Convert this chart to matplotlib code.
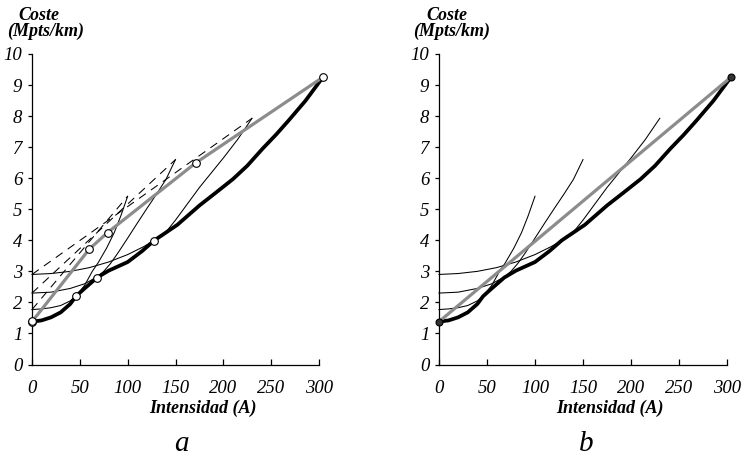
import matplotlib
matplotlib.use("Agg")
import matplotlib.pyplot as plt

# ---- data ----
env_I = [0, 10, 20, 30, 40, 46, 55, 68, 80, 100, 115, 128, 152, 175, 192, 210, 225, 241, 255, 268, 286, 304]
env_C = [1.38, 1.42, 1.52, 1.68, 1.95, 2.2, 2.45, 2.8, 3.02, 3.3, 3.65, 4.0, 4.5, 5.12, 5.53, 5.97, 6.4, 6.95, 7.4, 7.85, 8.5, 9.25]

c1_I = [0, 10, 20, 30, 40, 46, 55, 63, 69, 78, 86, 93, 100]
c1_C = [1.77, 1.79, 1.83, 1.9, 2.05, 2.2, 2.55, 3.0, 3.27, 3.75, 4.25, 4.8, 5.42]

c2_I = [0, 20, 40, 55, 68, 75, 82, 90, 100, 110, 120, 130, 140, 150]
c2_C = [2.3, 2.33, 2.45, 2.6, 2.82, 3.0, 3.25, 3.6, 4.07, 4.55, 5.02, 5.48, 5.96, 6.6]

c3_I = [0, 20, 40, 60, 80, 100, 117, 128, 137, 150, 175, 200, 215, 230]
c3_C = [2.9, 2.93, 3.0, 3.12, 3.3, 3.54, 3.8, 4.0, 4.15, 4.65, 5.7, 6.65, 7.25, 7.93]

# dashed secants (panel a)
sec_I = [[0, 100], [0, 150], [0, 230]]
sec_C = [[1.77, 5.42], [2.3, 6.6], [2.9, 7.93]]

# grey approximation, panel a (polyline) and panel b (straight line)
ga_I = [0, 60, 79, 171, 304]
ga_C = [1.38, 3.72, 4.25, 6.49, 9.25]
gb_I = [0, 304]
gb_C = [1.38, 9.25]

# tangent points on envelope (panel a)
tp_I = [0, 46, 68, 128]
tp_C = [1.4, 2.2, 2.8, 3.97]

xticks = [0, 50, 100, 150, 200, 250, 300]
yticks = list(range(0, 11))

W, H = 749, 461
fig = plt.figure(figsize=(W / 100, H / 100), dpi=100)

SERIF = "Liberation Serif"
GREY = "#8c8c8c"


def make_ax(x0_px, x1_px):
    y0_px, y1_px = 364.5, 54
    ax = fig.add_axes([x0_px / W, (H - y0_px) / H, (x1_px - x0_px) / W, (y0_px - y1_px) / H])
    ax.set_xlim(0, 300)
    ax.set_ylim(0, 10)
    for s in ("top", "right"):
        ax.spines[s].set_visible(False)
    for s in ("left", "bottom"):
        ax.spines[s].set_linewidth(0.9)
    ax.set_xticks(xticks)
    ax.set_yticks(yticks)
    ax.tick_params(axis="x", direction="in", length=4, width=0.9, pad=11)
    ax.tick_params(axis="y", direction="out", length=3, width=0.9, pad=4)
    for lab in ax.get_xticklabels() + ax.get_yticklabels():
        lab.set_fontfamily(SERIF)
        lab.set_fontstyle("italic")
        lab.set_fontsize(13.5)
    return ax


def thin_curves(ax):
    for I, C in ((c1_I, c1_C), (c2_I, c2_C), (c3_I, c3_C)):
        ax.plot(I, C, color="black", lw=0.75, clip_on=False, zorder=2)


# ---- panel a ----
axa = make_ax(32, 319)
for I, C in zip(sec_I, sec_C):
    axa.plot(I, C, color="black", lw=0.75, ls=(0, (8, 6)), clip_on=False, zorder=2)
thin_curves(axa)
axa.plot(env_I, env_C, color="black", lw=2.7, clip_on=False, zorder=3, solid_capstyle="round")
axa.plot(ga_I, ga_C, color=GREY, lw=2.3, clip_on=False, zorder=4)
axa.plot(ga_I, ga_C, ls="none", marker="o", ms=5.5, mfc="white", mec="black", mew=0.8,
         clip_on=False, zorder=5)
axa.plot(tp_I, tp_C, ls="none", marker="o", ms=5.5, mfc="white", mec="black", mew=0.8,
         clip_on=False, zorder=5)

# ---- panel b ----
axb = make_ax(439, 727)
thin_curves(axb)
axb.plot(env_I, env_C, color="black", lw=2.7, clip_on=False, zorder=3, solid_capstyle="round")
axb.plot(gb_I, gb_C, color=GREY, lw=2.3, clip_on=False, zorder=4)
axb.plot(gb_I, gb_C, ls="none", marker="o", ms=5, mfc="#333333", mec="black", mew=0.8,
         clip_on=False, zorder=5)

# ---- text ----
lab_kw = dict(fontfamily=SERIF, fontstyle="italic", fontweight="bold", fontsize=13)
for cx_coste, cx_units, cx_int, cx_sub, sub in ((39, 46, 203, 181, "a"), (447, 452, 610, 586, "b")):
    fig.text(cx_coste / W, 1 - 15 / H, "Coste", ha="center", va="center", **lab_kw)
    fig.text(cx_units / W, 1 - 31 / H, "(Mpts/km)", ha="center", va="center", **lab_kw)
    fig.text(cx_int / W, 1 - 408 / H, "Intensidad (A)", ha="center", va="center", **lab_kw)
    fig.text(cx_sub / W, 1 - 444 / H, sub, ha="center", va="center",
             fontfamily=SERIF, fontstyle="italic", fontsize=21)

fig.savefig("out.png", dpi=100)
